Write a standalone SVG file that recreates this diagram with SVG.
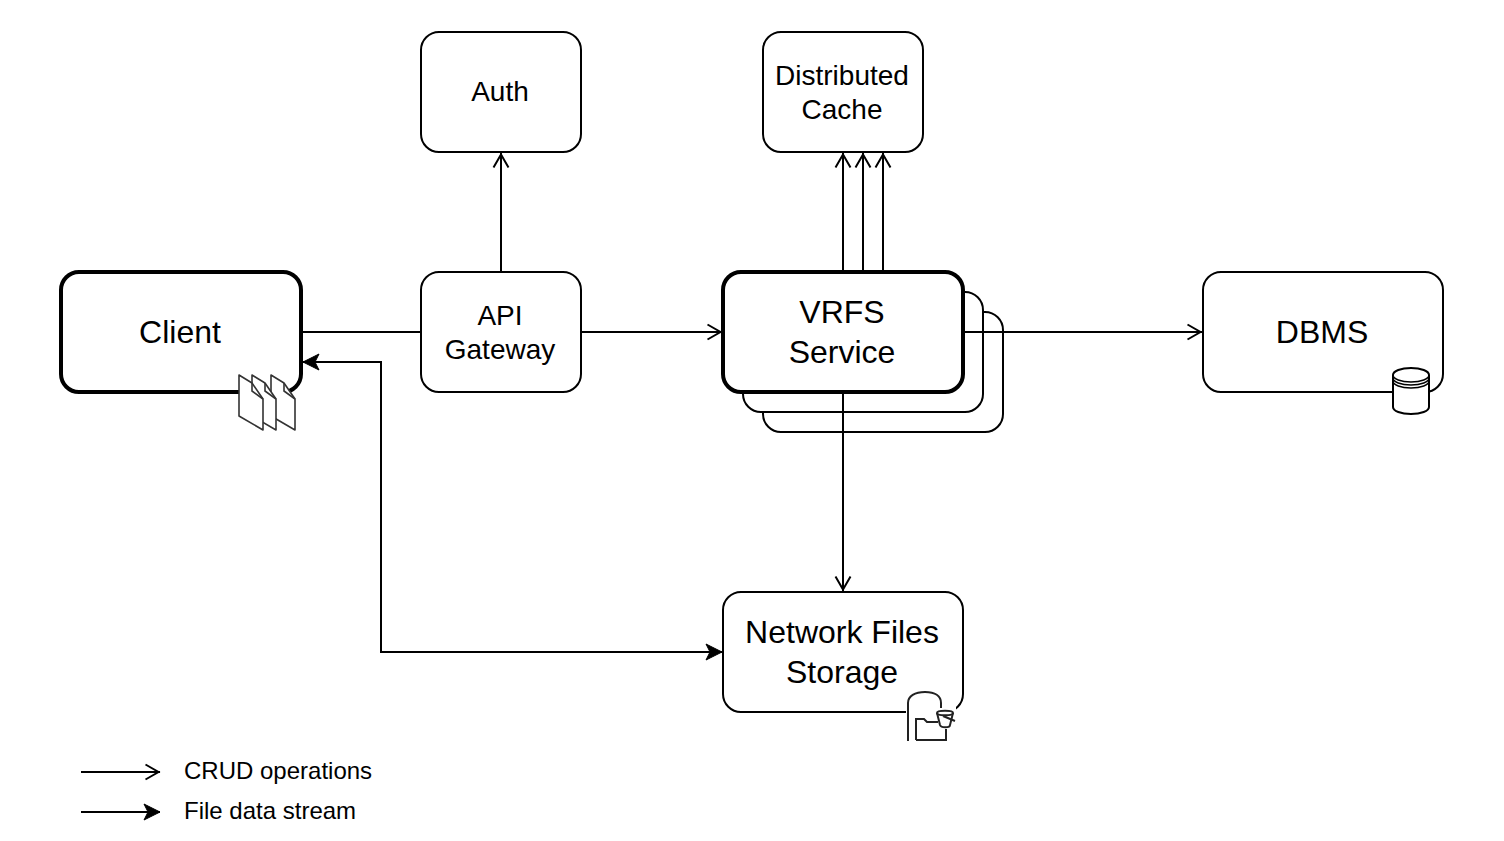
<svg xmlns="http://www.w3.org/2000/svg" width="1504" height="841" viewBox="0 0 1504 841">
<style>
.n{fill:#fff;stroke:#000;stroke-width:2}
.b{fill:#fff;stroke:#000;stroke-width:4}
.c{fill:none;stroke:#000;stroke-width:2}
.t{font-family:"Liberation Sans",Arial,sans-serif;fill:#000;text-anchor:middle}
.l{font-family:"Liberation Sans",Arial,sans-serif;fill:#000;font-size:24px}
.s{font-size:28px}
.m{font-size:32px}
.i{fill:#fff;stroke:#333;stroke-width:1.6;stroke-linejoin:round}
.q{fill:none;stroke:#333;stroke-width:1.6}
.k{fill:none;stroke:#222;stroke-width:2}
</style>
<defs>
<marker id="o" markerUnits="userSpaceOnUse" markerWidth="24" markerHeight="24" refX="20" refY="12" orient="auto"><path d="M5.500 4.500L18.500 12L5.500 19.500" fill="none" stroke="#000" stroke-width="2"/></marker>
<marker id="f" markerUnits="userSpaceOnUse" markerWidth="24" markerHeight="24" refX="20" refY="12" orient="auto-start-reverse"><path d="M4 4L20 12L4 20L8 12Z" fill="#000" stroke="#000" stroke-width="1"/></marker>
</defs>
<g id="auth"><rect class="n" x="421" y="32" width="160" height="120" rx="18"/><text class="t s" x="500" y="101">Auth</text></g>
<g id="cache"><rect class="n" x="763" y="32" width="160" height="120" rx="18"/><text class="t s" x="842" y="85">Distributed</text><text class="t s" x="842" y="119">Cache</text></g>
<g id="gateway"><rect class="n" x="421" y="272" width="160" height="120" rx="18"/><text class="t s" x="500" y="325">API</text><text class="t s" x="500" y="359">Gateway</text></g>
<g id="vrfs">
<rect class="n" x="763" y="312" width="240" height="120" rx="18"/>
<rect class="n" x="743" y="292" width="240" height="120" rx="18"/>
<rect class="b" x="723" y="272" width="240" height="120" rx="18"/>
<text class="t m" x="842" y="323">VRFS</text><text class="t m" x="842" y="363">Service</text></g>
<g id="dbms"><rect class="n" x="1203" y="272" width="240" height="120" rx="18"/><text class="t m" x="1322" y="343">DBMS</text></g>
<g id="storage"><rect class="n" x="723" y="592" width="240" height="120" rx="18"/><text class="t m" x="842" y="643">Network Files</text><text class="t m" x="842" y="683">Storage</text></g>
<g id="client"><rect class="b" x="61" y="272" width="240" height="120" rx="18"/><text class="t m" x="180" y="343">Client</text></g>
<g id="connectors">
<path class="c" d="M302 332H421"/>
<path class="c" d="M581 332H722" marker-end="url(#o)"/>
<path class="c" d="M501 272V153" marker-end="url(#o)"/>
<path class="c" d="M843 270V153" marker-end="url(#o)"/>
<path class="c" d="M863 270V153" marker-end="url(#o)"/>
<path class="c" d="M883 270V153" marker-end="url(#o)"/>
<path class="c" d="M964 332H1202" marker-end="url(#o)"/>
<path class="c" d="M843 393V591" marker-end="url(#o)"/>
<path class="c" d="M303 362H381V652H722" marker-start="url(#f)" marker-end="url(#f)"/>
<path class="c" d="M81 772H160" marker-end="url(#o)"/>
<path class="c" d="M81 812H160" marker-end="url(#f)"/>
</g>
<g id="files-icon">
<path class="i" d="M271 375L284 383L295 399V430L271 416Z"/><path class="q" d="M284 383V391L295 399"/>
<path class="i" d="M252 375L265 383L276 399V430L252 416Z"/><path class="q" d="M265 383V391L276 399"/>
<path class="i" d="M239 375L252 383L263 399V430L239 416Z"/><path class="q" d="M252 383V391L263 399"/>
</g>
<g id="db-icon"><path d="M1393 375C1393 371 1401 368 1411 368C1421 368 1429 371 1429 375V407C1429 411 1421 414 1411 414C1401 414 1393 411 1393 407Z" fill="#fff" stroke="#000" stroke-width="2"/><path d="M1393 375C1393 379 1401 382 1411 382C1421 382 1429 379 1429 375M1393 378C1393 382 1401 385 1411 385C1421 385 1429 382 1429 378M1393 381C1393 385 1401 388 1411 388C1421 388 1429 385 1429 381" fill="none" stroke="#000" stroke-width="1.500"/></g>
<g id="storage-icon"><rect x="906" y="690" width="50" height="52" fill="#fff"/>
<path class="k" d="M908 741V703C908 696 915 692 925 692C935 692 941 696 941 703V708"/>
<path class="k" d="M916 740V719H924L927 722H938M946 729V740H916"/>
<path d="M937 713C937 710 953 710 953 713L950 725C950 728 941 728 940 725Z" fill="#fff" stroke="#222" stroke-width="2"/><path class="k" d="M937 713C937 716 953 716 953 713M943 716L955 721"/></g>
<g id="legend"><text class="l" x="184" y="779">CRUD operations</text><text class="l" x="184" y="819">File data stream</text></g>
</svg>
